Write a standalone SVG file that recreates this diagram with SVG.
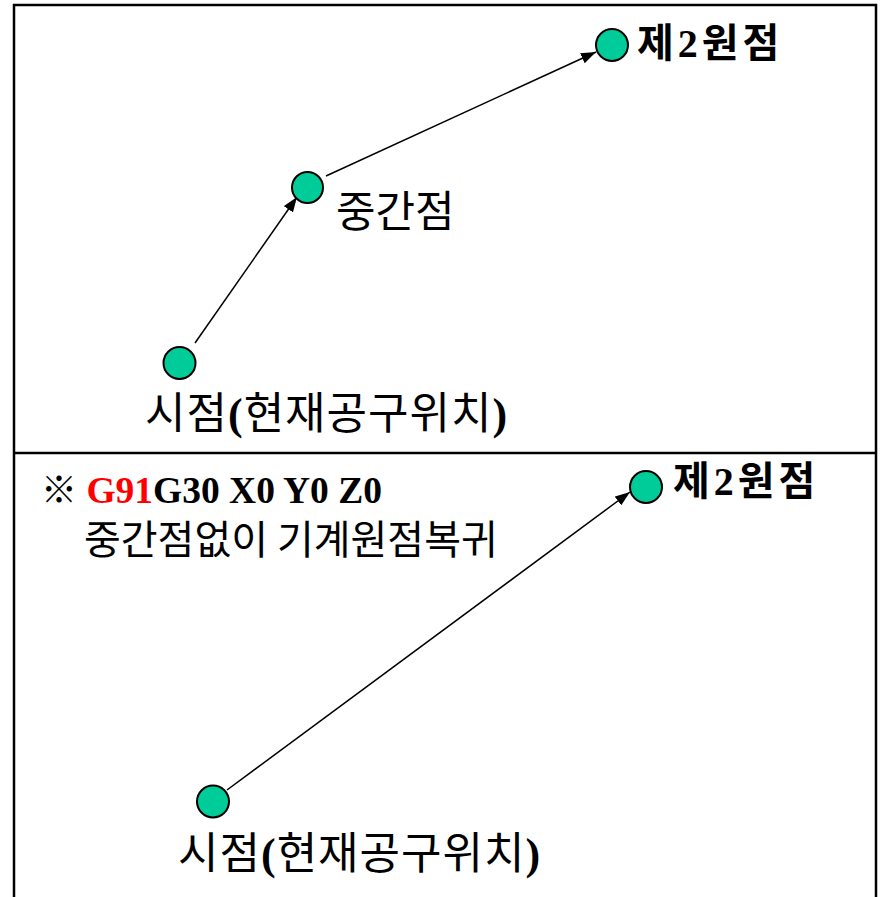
<svg xmlns="http://www.w3.org/2000/svg" width="881" height="897" viewBox="0 0 881 897">
<style>
.frame{stroke:#000;stroke-width:2.5;fill:none}
.pt{fill:#00CC99;stroke:#000;stroke-width:2}
.con{stroke:#000;stroke-width:1.5;fill:none}
.ko{font-family:"Noto Sans CJK KR","Noto Sans",sans-serif;fill:#000}
.kob{font-family:"Noto Sans CJK KR","Noto Sans",sans-serif;font-weight:bold;fill:#000}
.ser{font-family:"Liberation Serif",serif}
.serb{font-family:"Liberation Serif",serif;font-weight:bold}
.o2{font-size:40px;letter-spacing:4px}
.lbl{font-size:44px;letter-spacing:1px}
</style>
<defs>
<marker id="ah" viewBox="0 0 10 10" refX="10" refY="5" markerWidth="15" markerHeight="11" markerUnits="userSpaceOnUse" orient="auto" preserveAspectRatio="none">
<path d="M0,0 L10,5 L0,10 z" fill="#000"/>
</marker>
</defs>
<g id="frame">
<polyline class="frame" points="14,897 14,5 876,5 876,897"/>
<line class="frame" x1="14" y1="453" x2="876" y2="453"/>
</g>
<g id="connectors">
<line class="con" x1="195" y1="343" x2="297" y2="197" marker-end="url(#ah)"/>
<line class="con" x1="326" y1="176" x2="596" y2="52" marker-end="url(#ah)"/>
<line class="con" x1="227" y1="790" x2="630" y2="492" marker-end="url(#ah)"/>
</g>
<g id="top-origin2">
<circle class="pt" cx="612" cy="45" r="16"/>
<text class="kob o2" x="637" y="57">제<tspan class="serb">2</tspan>원점</text>
</g>
<g id="top-mid">
<circle class="pt" cx="307.5" cy="187.5" r="15.5"/>
<text class="ko" x="336" y="227" font-size="43">중간점</text>
</g>
<g id="top-start">
<circle class="pt" cx="179.5" cy="363" r="16"/>
<text class="ko lbl" x="145" y="429">시점<tspan class="serb">(</tspan>현재공구위치<tspan class="serb">)</tspan></text>
</g>
<g id="note">
<text x="41" y="503" font-size="37.5" class="serb"><tspan class="kob" font-size="36">※</tspan> <tspan fill="#FF0000">G91</tspan>G30 X0 Y0 Z0</text>
<text class="ko" x="84" y="554" font-size="40">중간점없이 기계원점복귀</text>
</g>
<g id="bot-origin2">
<circle class="pt" cx="646" cy="487" r="16"/>
<text class="kob o2" x="673" y="495">제<tspan class="serb">2</tspan>원점</text>
</g>
<g id="bot-start">
<circle class="pt" cx="213" cy="801.5" r="16"/>
<text class="ko lbl" x="178" y="869">시점<tspan class="serb">(</tspan>현재공구위치<tspan class="serb">)</tspan></text>
</g>
</svg>
